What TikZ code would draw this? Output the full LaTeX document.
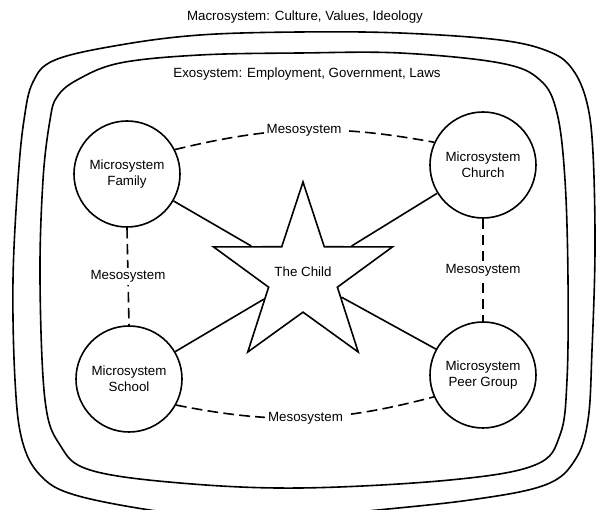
\documentclass[tikz,border=0pt]{standalone}
\usepackage{fontspec}
\setmainfont{Liberation Sans}
\usepackage{tikz}
\usetikzlibrary{positioning}
\usetikzlibrary{shapes.geometric}
\tikzset{micro/.style={circle, draw, line width=1.2pt, minimum size=79.5pt,
inner sep=0pt, align=center},
mesolabel/.style={fill=white, inner sep=2pt}}

\begin{document}
\begin{tikzpicture}[x=0.75pt, y=0.75pt, line width=1.2pt,
meso/.style={dash pattern=on 8pt off 4pt}, system/.style={line width=1.2pt}]
\useasboundingbox (0,0) rectangle (600,510);
\draw[system] plot[smooth cycle, tension=0.6] coordinates {(300,478) (400,477) (500,470) (550,458) (573,440) (587,407) (593,357) (595,260) (592,160) (588,90) (575,50) (545,25) (470,10) (358,-2) (260,-12) (163,-2) (75,15) (40,35) (22,70) (15,130) (13,230) (18,330) (24,390) (33,428) (55,450) (120,465) (200,475)};
\draw[system] plot[smooth cycle, tension=0.6] coordinates {(300,457) (400,457) (500,447) (540,430) (557,397) (565,330) (568,230) (567,130) (560,75) (535,45) (450,30) (300,22) (180,27) (90,40) (60,65) (45,110) (40,230) (43,330) (50,390) (57,413) (77,430) (120,447) (200,455)};
\node (macro) at (305,493) {Macrosystem: Culture, Values, Ideology};
\node (exo) at (307,436) {Exosystem: Employment, Government, Laws};
\node[micro] (family) at (127,336) {Microsystem\\Family};
\node[micro] (church) at (483,345) {Microsystem\\Church};
\node[micro] (school) at (129,131) {Microsystem\\School};
\node[micro] (peer) at (483,135) {Microsystem\\Peer Group};
\node[star, star points=5, star point ratio=2.6, draw, minimum size=141pt,
inner sep=0pt, label={[yshift=3pt]center:The Child}] (child) at (303,234) {};
\draw (family) -- (child);
\draw (church) -- (child);
\draw (school) -- (child);
\draw (peer) -- (child);
\draw[meso] (family.27) to[bend left=12] node[mesolabel] {Mesosystem} (church.155);
\draw[meso] (school.-29) to[bend right=13] node[mesolabel] {Mesosystem} (peer.204);
\draw[meso] (family.south) -- node[mesolabel] {Mesosystem} (school.north);
\draw[meso] (church.south) -- node[mesolabel] {Mesosystem} (peer.north);
\end{tikzpicture}
\end{document}
